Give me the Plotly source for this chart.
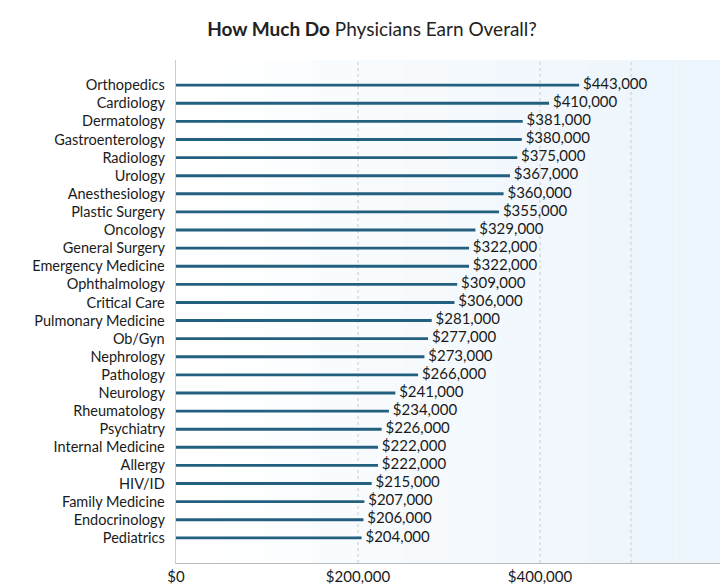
import plotly.graph_objects as go

specialties = ["Orthopedics","Cardiology","Dermatology","Gastroenterology","Radiology","Urology",
"Anesthesiology","Plastic Surgery","Oncology","General Surgery","Emergency Medicine","Ophthalmology",
"Critical Care","Pulmonary Medicine","Ob/Gyn","Nephrology","Pathology","Neurology","Rheumatology",
"Psychiatry","Internal Medicine","Allergy","HIV/ID","Family Medicine","Endocrinology","Pediatrics"]
earnings = [443000,410000,381000,380000,375000,367000,360000,355000,329000,322000,322000,309000,
306000,281000,277000,273000,266000,241000,234000,226000,222000,222000,215000,207000,206000,204000]
tick_vals = [0,200000,400000]
tick_text = ["$0","$200,000","$400,000"]

fig = go.Figure()
fig.add_trace(go.Bar(
    x=earnings, y=specialties, orientation="h", width=0.16,
    marker=dict(color="#23607f", line=dict(width=0)), hoverinfo="skip"))
fig.add_trace(go.Scatter(
    x=earnings, y=specialties, mode="text", text=[f" ${v:,}" for v in earnings],
    textposition="middle right", cliponaxis=False,
    textfont=dict(family="Lato, Open Sans, sans-serif", size=15, color="#1a1a1a")))

shapes = []
n = 12
for i in range(n):
    t = i/(n-1)
    r = int(255 - t*(255-236)); g = int(255 - t*(255-245)); b = int(255 - t*(255-252))
    shapes.append(dict(type="rect", xref="paper", yref="paper", x0=i/n, x1=(i+1)/n, y0=0, y1=1,
                       fillcolor=f"rgb({r},{g},{b})", line=dict(width=0), layer="below"))
for gx in [200000, 400000, 500000]:
    shapes.append(dict(type="line", xref="x", yref="paper", x0=gx, x1=gx, y0=0, y1=1,
                       line=dict(color="#c8ccd0", width=1, dash="dot"), layer="below"))

fig.update_layout(
    width=728, height=588, margin=dict(l=168, r=14, t=52, b=33),
    paper_bgcolor="white", plot_bgcolor="rgba(0,0,0,0)", shapes=shapes, showlegend=False,
    title=dict(text="<b>How Much Do</b> Physicians Earn Overall?", x=0.5, xanchor="center", y=0.975,
               font=dict(family="Lato, Open Sans, sans-serif", size=19, color="#222")),
    font=dict(family="Lato, Open Sans, sans-serif", size=14, color="#1a1a1a"),
    xaxis=dict(range=[0,600000], tickvals=tick_vals, ticktext=tick_text, showgrid=False,
               zeroline=False, showline=True, linecolor="#bbb", ticks="", tickfont=dict(size=15)),
    yaxis=dict(autorange="reversed", showgrid=False, showline=True, linecolor="#ccc",
               ticks="", ticksuffix="  ", tickfont=dict(size=14.5), range=[25.6,-0.6]),
)
fig.write_html("out.html")
